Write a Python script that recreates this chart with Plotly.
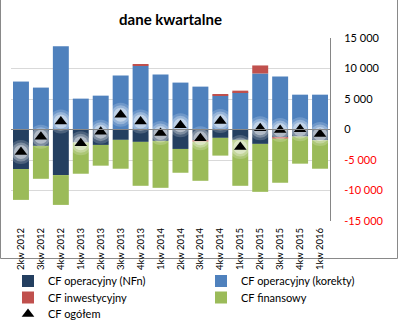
import plotly.graph_objects as go

quarters = ["2kw 2012", "3kw 2012", "4kw 2012", "1kw 2013", "2kw 2013", "3kw 2013",
            "4kw 2013", "1kw 2014", "2kw 2014", "3kw 2014", "4kw 2014", "1kw 2015",
            "2kw 2015", "3kw 2015", "4kw 2015", "1kw 2016"]

cf_nfn = [-6480, -2690, -7470, -2140, -2530, -1700, -2030, -1870,
          -3190, -1760, -1370, -1700, -2360, -1320, -1150, -1760]
cf_korekty = [7860, 6870, 13630, 5060, 5550, 8850, 10440, 9010,
              7690, 7030, 5550, 6100, 9180, 8680, 5710, 5710]
cf_inwest = [0, 0, 0, 0, 0, 0, 200, 0,
             0, -220, 160, 270, 1320, -160, 0, 0]
cf_finans = [-5060, -5390, -4890, -5110, -3400, -4730, -7200, -7690,
             -3900, -6430, -2910, -7530, -7860, -7250, -4450, -4670]
cf_ogolem = [-3700, -1180, 1300, -2250, -350, 2420, 1300, -580,
             680, -1450, 1380, -2860, 200, -100, 30, -750]

y_ticks = [15000, 10000, 5000, 0, -5000, -10000, -15000]
y_ticktext = ["15 000", "10 000", "5 000", "0",
              '<span style="color:#ff0000">-5 000</span>',
              '<span style="color:#ff0000">-10 000</span>',
              '<span style="color:#ff0000">-15 000</span>']

FONT = "Lato"
W, H = 398, 330
L, R, T, B = 11, 68, 38, 109
pw = W - L - R
ph = H - T - B

fig = go.Figure()
fig.add_bar(x=quarters, y=cf_nfn, name="CF operacyjny (NFn)", marker_color="#243f60",
            marker_line_width=0, legend="legend")
fig.add_bar(x=quarters, y=cf_korekty, name="CF operacyjny (korekty)", marker_color="#4f81bd",
            marker_line_width=0, legend="legend2")
fig.add_bar(x=quarters, y=cf_inwest, name="CF inwestycyjny", marker_color="#c0504d",
            marker_line_width=0, legend="legend3")
fig.add_bar(x=quarters, y=cf_finans, name="CF finansowy", marker_color="#9bbb59",
            marker_line_width=0, legend="legend4")

# glow halo behind the triangles
for sz, op in [(24, 0.18), (19, 0.28), (14, 0.4)]:
    fig.add_scatter(x=quarters, y=cf_ogolem, mode="markers", showlegend=False,
                    hoverinfo="skip",
                    marker=dict(symbol="circle", size=sz, color="white", opacity=op,
                                line_width=0))
fig.add_scatter(x=quarters, y=cf_ogolem, mode="markers", name="CF ogółem",
                marker=dict(symbol="triangle-up", size=11, color="black", line_width=0),
                legend="legend5")


def leg(px, py):
    return dict(xref="container", yref="container", x=px / W, y=1 - py / H,
                xanchor="left", yanchor="middle", orientation="v", itemwidth=30,
                font=dict(family=FONT, size=11, color="black"),
                bgcolor="rgba(0,0,0,0)", borderwidth=0)


fig.update_layout(
    width=W, height=H,
    margin=dict(l=L, r=R, t=T, b=B, autoexpand=False),
    paper_bgcolor="white", plot_bgcolor="white",
    barmode="relative", bargap=0.2,
    font=dict(family=FONT, size=11, color="black"),
    title=dict(text="<b>dane kwartalne</b>", x=0.5, xanchor="center", xref="paper",
               y=1 - 20 / H, yanchor="middle", yref="container",
               font=dict(family=FONT, size=15, color="black")),
    showlegend=True,
    legend=leg(8, 281),
    legend2=leg(201, 281),
    legend3=leg(8, 297.5),
    legend4=leg(201, 297.5),
    legend5=leg(8, 314),
    xaxis=dict(type="category", tickangle=-90, tickfont=dict(family=FONT, size=9.5),
               showgrid=False, showline=False, ticks="", ticklabelstandoff=4,
               range=[-0.5, 15.5], automargin=False),
    yaxis=dict(side="right", range=[-15000, 15000], tickvals=y_ticks, ticktext=y_ticktext,
               showgrid=True, gridcolor="#d9d9d9", gridwidth=1, zeroline=False,
               showline=True, linecolor="#868686", linewidth=1, ticks="",
               ticklabelstandoff=11, tickfont=dict(family=FONT, size=11), automargin=False),
    shapes=[
        dict(type="line", xref="paper", yref="y", x0=0, x1=1, y0=0, y1=0,
             line=dict(color="#868686", width=1), layer="above"),
        dict(type="rect", xref="paper", yref="paper",
             x0=(0.5 - L) / pw, x1=(W - 0.5 - L) / pw,
             y0=(H - T - (H - 0.5)) / ph, y1=(H - T - 0.5) / ph,
             line=dict(color="#898989", width=1), fillcolor="rgba(0,0,0,0)", layer="below"),
    ],
)

fig.write_html("out.html")
